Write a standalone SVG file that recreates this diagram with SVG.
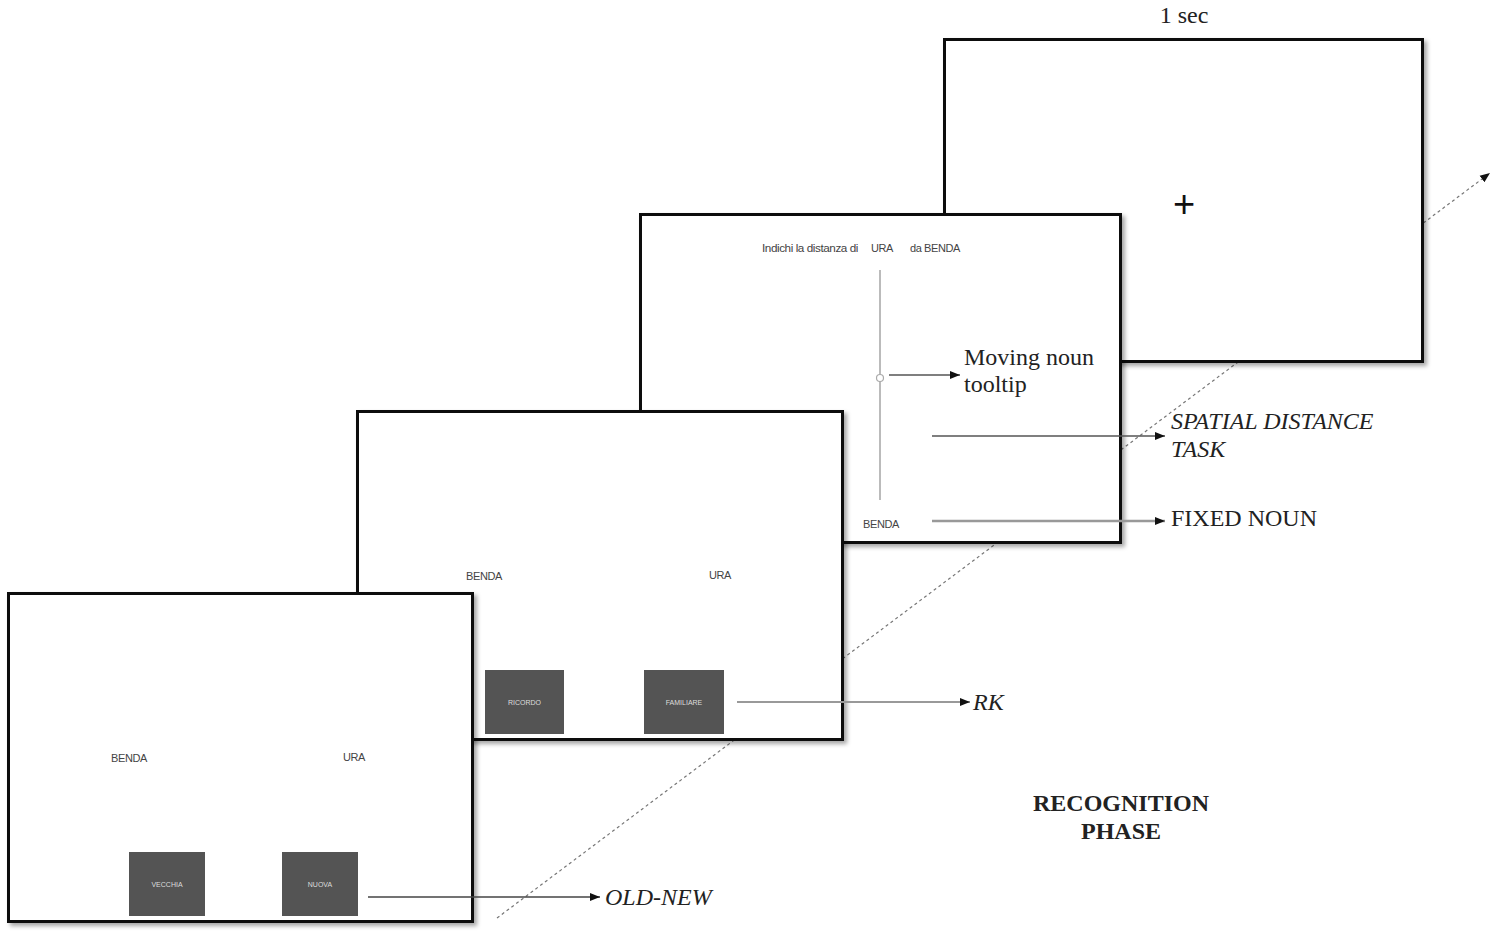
<svg xmlns="http://www.w3.org/2000/svg" width="1499" height="932" viewBox="0 0 1499 932">
<style>
.screen{fill:#fff;stroke:#111;stroke-width:3;filter:url(#sh)}
.small{font-family:"Liberation Sans",Arial,sans-serif;font-size:11px;fill:#444;text-anchor:middle;letter-spacing:-0.4px}
.btn{fill:#545454}
.btxt{font-family:"Liberation Sans",Arial,sans-serif;font-size:7px;fill:#ddd;text-anchor:middle}
.lab{font-family:"Liberation Serif","Times New Roman",serif;font-size:24px;fill:#222}
.it{font-style:italic}
.bold{font-weight:bold;text-anchor:middle}
.dash{stroke:#777;stroke-width:1.2;stroke-dasharray:3 3;fill:none}
</style>
<defs>
<filter id="sh" x="-5%" y="-5%" width="112%" height="112%">
<feDropShadow dx="3" dy="3" stdDeviation="2" flood-color="#000" flood-opacity="0.35"/>
</filter>
<marker id="ah" viewBox="0 0 10 10" refX="10" refY="5" markerWidth="10" markerHeight="10" markerUnits="userSpaceOnUse" orient="auto">
<path d="M0,1 L10,5 L0,9 Z" fill="#111"/>
</marker>
</defs>
<rect width="1499" height="932" fill="#fff"/>
<g id="timeline">
<line class="dash" x1="497" y1="918" x2="1490" y2="173" marker-end="url(#ah)"/>
</g>
<g id="screen4">
<rect class="screen" x="944.5" y="39.5" width="478" height="322"/>
<text x="1184" y="217" font-family="Liberation Sans,Arial,sans-serif" font-size="38" fill="#111" text-anchor="middle">+</text>
<text class="lab" x="1184" y="23" text-anchor="middle">1 sec</text>
</g>
<g id="screen3">
<rect class="screen" x="640.5" y="214.5" width="480" height="328"/>
<text class="small" x="810" y="252" textLength="96" lengthAdjust="spacingAndGlyphs">Indichi la distanza di</text>
<text class="small" x="882" y="252">URA</text>
<text class="small" x="935" y="252">da BENDA</text>
<line x1="880" y1="270" x2="880" y2="500" stroke="#bbb" stroke-width="2"/>
<circle cx="880" cy="378" r="3.5" fill="#fff" stroke="#aaa" stroke-width="1.2"/>
<text class="small" x="881" y="528">BENDA</text>
</g>
<g id="screen2">
<rect class="screen" x="357.5" y="411.5" width="485" height="328"/>
<text class="small" x="484" y="580">BENDA</text>
<text class="small" x="720" y="579">URA</text>
<rect class="btn" x="485" y="670" width="79" height="64"/>
<text class="btxt" x="524.5" y="705">RICORDO</text>
<rect class="btn" x="644" y="670" width="80" height="64"/>
<text class="btxt" x="684" y="705">FAMILIARE</text>
</g>
<g id="screen1">
<rect class="screen" x="8.5" y="593.5" width="464" height="328"/>
<text class="small" x="129" y="762">BENDA</text>
<text class="small" x="354" y="761">URA</text>
<rect class="btn" x="129" y="852" width="76" height="64"/>
<text class="btxt" x="167" y="887">VECCHIA</text>
<rect class="btn" x="282" y="852" width="76" height="64"/>
<text class="btxt" x="320" y="887">NUOVA</text>
</g>
<g id="connectors">
<line x1="889" y1="375" x2="960" y2="375" stroke="#555" stroke-width="1.5" marker-end="url(#ah)"/>
<line x1="932" y1="436" x2="1165" y2="436" stroke="#555" stroke-width="1.5" marker-end="url(#ah)"/>
<line x1="932" y1="521" x2="1165" y2="521" stroke="#999" stroke-width="2.5" marker-end="url(#ah)"/>
<line x1="737" y1="702" x2="970" y2="702" stroke="#999" stroke-width="2" marker-end="url(#ah)"/>
<line x1="368" y1="897" x2="600" y2="897" stroke="#444" stroke-width="1.3" marker-end="url(#ah)"/>
</g>
<g id="labels">
<text class="lab" x="964" y="365">Moving noun</text>
<text class="lab" x="964" y="392">tooltip</text>
<text class="lab it" x="1171" y="429">SPATIAL DISTANCE</text>
<text class="lab it" x="1171" y="457">TASK</text>
<text class="lab" x="1171" y="526">FIXED NOUN</text>
<text class="lab it" x="973" y="710">RK</text>
<text class="lab it" x="605" y="905">OLD-NEW</text>
<text class="lab bold" x="1121" y="811">RECOGNITION</text>
<text class="lab bold" x="1121" y="839">PHASE</text>
</g>
</svg>
